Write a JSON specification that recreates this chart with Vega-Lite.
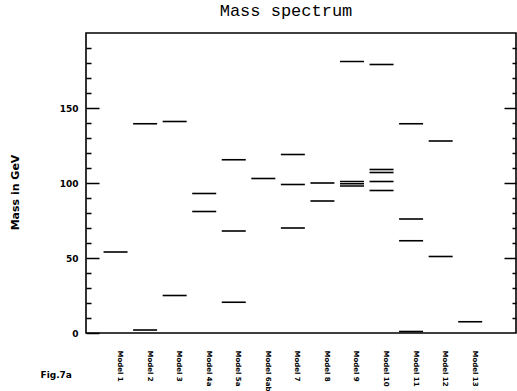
{
  "$schema": "https://vega.github.io/schema/vega-lite/v6.json",
  "width": 430,
  "height": 300,
  "autosize": {"type": "none"},
  "padding": {"left": 86, "top": 33, "right": 1, "bottom": 58},
  "background": "white",
  "config": {"view": {"stroke": "black", "strokeWidth": 1.6}, "axis": {"grid": false}, "axisX": {"labelOverlap": false}},
  "title": {"text": "Mass spectrum", "font": "Liberation Mono", "fontSize": 17, "fontWeight": "normal", "color": "black", "anchor": "middle", "dx": -15, "baseline": "alphabetic", "offset": 0},
  "data": {"values": [
    {"col": 1, "mass": 54},
    {"col": 2, "mass": 139.5}, {"col": 2, "mass": 2},
    {"col": 3, "mass": 141}, {"col": 3, "mass": 25},
    {"col": 4, "mass": 93}, {"col": 4, "mass": 81},
    {"col": 5, "mass": 115.5}, {"col": 5, "mass": 68}, {"col": 5, "mass": 20.5},
    {"col": 6, "mass": 103},
    {"col": 7, "mass": 119}, {"col": 7, "mass": 99}, {"col": 7, "mass": 70},
    {"col": 8, "mass": 100}, {"col": 8, "mass": 88},
    {"col": 9, "mass": 181}, {"col": 9, "mass": 101}, {"col": 9, "mass": 99.5}, {"col": 9, "mass": 98},
    {"col": 10, "mass": 179}, {"col": 10, "mass": 109}, {"col": 10, "mass": 107}, {"col": 10, "mass": 101}, {"col": 10, "mass": 95},
    {"col": 11, "mass": 139.5}, {"col": 11, "mass": 76}, {"col": 11, "mass": 61.5}, {"col": 11, "mass": 1},
    {"col": 12, "mass": 128}, {"col": 12, "mass": 51},
    {"col": 13, "mass": 7.5}
  ]},
  "layer": [
    {
      "mark": {"type": "tick", "orient": "horizontal", "size": 24, "thickness": 1.6, "color": "black", "opacity": 1},
      "encoding": {
        "x": {"field": "col", "type": "quantitative",
          "scale": {"domain": [0, 14.55], "nice": false, "zero": false},
          "axis": {"values": [1,2,3,4,5,6,7,8,9,10,11,12,13],
            "labelExpr": "['Model 1','Model 2','Model 3','Model 4a','Model 5a','Model 6ab','Model 7','Model 8','Model 9','Model 10','Model 11','Model 12','Model 13'][datum.value-1]",
            "labelAngle": 90, "labelFont": "DejaVu Sans", "labelFontSize": 7, "labelFontWeight": "bold", "labelColor": "black",
            "labelPadding": 17, "labelOffset": 4, "labelOverlap": false, "ticks": false, "domain": false,
            "title": "Fig.7a", "titleFont": "DejaVu Sans", "titleFontSize": 9, "titleFontWeight": "bold", "titleColor": "black",
            "titleX": -46, "titleY": 44, "titleAlign": "left", "titleBaseline": "alphabetic", "titleAnchor": "start"}},
        "y": {"field": "mass", "type": "quantitative",
          "scale": {"domain": [0, 200], "nice": false},
          "axis": {"orient": "left", "values": [0,10,20,30,40,50,60,70,80,90,100,110,120,130,140,150,160,170,180,190],
            "labelExpr": "datum.value % 50 == 0 ? datum.label : ''",
            "tickSize": {"condition": {"test": "datum.value % 50 == 0", "value": -13}, "value": -5},
            "tickColor": "black", "tickWidth": 1.5, "domain": false, "labelOverlap": false,
            "labelFont": "DejaVu Sans", "labelFontSize": 9, "labelFontWeight": "bold", "labelColor": "black", "labelPadding": 21,
            "title": "Mass in GeV", "titleFont": "DejaVu Sans", "titleFontSize": 11, "titleFontWeight": "bold", "titleColor": "black",
            "titleX": -71, "titleY": 159, "titleAngle": -90, "titleAlign": "center", "titleBaseline": "middle"}}
      }
    },
    {
      "mark": {"type": "tick", "orient": "horizontal", "size": 24, "thickness": 1.6, "color": "black", "opacity": 0},
      "encoding": {
        "x": {"field": "col", "type": "quantitative",
          "axis": {"values": [1,2,3,4,5,6,7,8,9,10,11,12,13],
            "labelExpr": "['Model 1','Model 2','Model 3','Model 4a','Model 5a','Model 6ab','Model 7','Model 8','Model 9','Model 10','Model 11','Model 12','Model 13'][datum.value-1]",
            "labelAngle": 90, "labelFont": "DejaVu Sans", "labelFontSize": 7, "labelFontWeight": "bold", "labelColor": "black",
            "labelPadding": 17, "labelOffset": 4, "labelOverlap": false, "ticks": false, "domain": false,
            "title": "Fig.7a", "titleFont": "DejaVu Sans", "titleFontSize": 9, "titleFontWeight": "bold", "titleColor": "black",
            "titleX": -46, "titleY": 44, "titleAlign": "left", "titleBaseline": "alphabetic", "titleAnchor": "start"}},
        "y": {"field": "mass", "type": "quantitative",
          "axis": {"orient": "right", "values": [10,20,30,40,50,60,70,80,90,100,110,120,130,140,150,160,170,180,190],
            "labels": false, "domain": false, "title": null,
            "tickSize": {"condition": {"test": "datum.value % 50 == 0", "value": -12}, "value": -4},
            "tickColor": "black", "tickWidth": 1.5}}
      }
    }
  ],
  "resolve": {"axis": {"y": "independent"}}
}
